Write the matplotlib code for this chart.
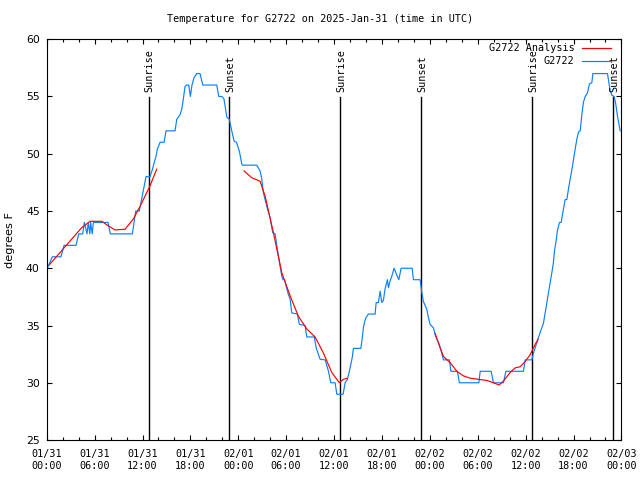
import datetime
import numpy as np
import matplotlib
matplotlib.use("Agg")
import matplotlib.pyplot as plt

# hours after 2025-01-31 00:00 UTC
start = datetime.datetime(2025, 1, 31, 0, 0)

blue_hours = [0.08, 0.70, 1.79, 2.17, 3.67, 4.01, 4.51, 4.71, 5.05, 5.2, 5.4, 5.5, 5.7, 5.84,
              7.68, 7.97, 10.73, 11.15, 11.6, 12.44, 12.94, 13.23, 13.45, 13.7, 13.86, 14.2,
              14.7, 14.95, 16.08, 16.29, 16.7, 16.92, 17.12, 17.33, 17.54, 17.79, 18.0, 18.2,
              18.46, 18.8, 19.21, 19.55, 21.3, 21.55, 21.93, 22.2, 22.56, 22.88, 23.18, 23.47,
              23.78, 24.14, 24.44, 24.54, 26.32, 26.73, 26.94, 27.14, 27.36, 27.57, 27.98,
              28.32, 28.61, 28.82, 29.02, 29.24, 29.45, 29.61, 29.8, 30.08, 30.28, 30.49, 30.7,
              31.4, 31.65, 32.37, 32.58, 33.53, 33.75, 34.25, 34.88, 35.29, 35.59, 36.13, 36.34,
              37.13, 37.38, 37.67, 37.88, 38.1, 38.3, 38.42, 39.35, 39.51, 39.67, 39.85, 40.01,
              40.3, 41.14, 41.27, 41.55, 41.77, 41.98, 42.18, 42.39, 42.68, 42.81, 43.02, 43.23,
              43.52, 43.86, 44.11, 44.4, 45.78, 45.94, 46.78, 46.99, 47.19, 47.62, 47.82, 48.03,
              48.45, 48.66, 48.87, 49.07, 49.37, 49.7, 50.45, 50.63, 51.45, 51.7, 54.14, 54.3,
              55.68, 55.96, 57.22, 57.52, 59.72, 59.94, 60.78, 60.98, 61.4, 61.82, 62.23, 62.44,
              62.66, 62.86, 63.07, 63.28, 63.48, 63.61, 63.82, 63.98, 64.24, 64.45, 64.74, 64.95,
              65.16, 65.36, 65.58, 65.79, 65.99, 66.2, 66.42, 66.62, 66.83, 67.04, 67.24, 67.46,
              67.74, 67.99, 68.29, 68.42, 70.25, 70.59, 70.8, 71.09, 71.3, 71.5, 71.84]
blue_temps = [40, 41, 41, 42, 42, 43, 43, 44, 43, 44, 43, 44, 43, 44,
              44, 43, 43, 45, 45, 48, 48, 48.6, 49.2, 49.8, 50.4, 51,
              51, 52, 52, 53, 53.4, 53.9, 54.8, 55.9, 56, 56, 55, 56,
              56.65, 57, 57, 56, 56, 55, 55, 54.8, 53.2, 53, 52, 51.1,
              51, 50.2, 49.1, 49, 49, 48.5, 47.8, 46.6, 46, 45.4, 44.4,
              43.1, 43, 42, 41.1, 40.2, 39.3, 39, 39, 38.2, 37.7, 37.3, 36.1,
              36, 35.1, 35, 34, 34, 33.07, 32.05, 32, 31.03, 30, 30, 29,
              29, 30, 30.3, 30.9, 31.6, 32.3, 33, 33, 33.8, 34.8, 35.4, 35.7,
              36, 36, 37, 37, 38, 37, 37.2, 38.2, 39, 38.3, 38.9, 39.3,
              40, 39.4, 39, 40, 40, 39, 39, 37.9, 37.1, 36.4, 35.7, 35.1,
              34.8, 34.2, 33.8, 33.55, 32.9, 32, 32, 31, 31, 30, 30, 31,
              31, 30, 30, 31, 31, 32, 32, 32.6, 33.5, 34.4, 35.2, 36.1,
              37, 37.9, 38.75, 39.6, 40.5, 41.5, 42.4, 43.3, 44, 44, 45.2, 46,
              46, 46.9, 47.8, 48.6, 49.5, 50.4, 51.3, 51.9, 52, 53.4, 54.5, 55,
              55.3, 56.1, 56.2, 57, 57, 55.5, 55.1, 55, 54.3, 53.3, 52]

# analysis curve, gaps marked with nan
red_hours = [0.33, 4.39, 5.43, 6.89, 7.72, 8.56, 9.81, 10.85, 11.69, 12.94, 13.78, 14.0,
             24.72, 25.69, 26.73, 27.36, 28.4, 29.45, 30.49, 31.53, 32.58, 33.62, 34.66,
             35.71, 36.66, 37.17, 37.67, 38.0,
             48.66, 49.29, 49.7, 50.54, 51.38, 52.21, 53.05, 54.09, 55.14, 55.97, 56.68,
             57.22, 58.06, 58.69, 59.31, 59.94, 60.56, 61.19, 61.56]
red_temps = [40.3, 43.55, 44.1, 44.1, 43.7, 43.35, 43.4, 44.3, 45.4, 47.2, 48.65, np.nan,
             48.5, 47.9, 47.6, 46.3, 43.1, 39.6, 37.6, 35.8, 34.7, 34.0, 32.6,
             30.9, 30.0, 30.3, 30.4, np.nan,
             34.3, 33.05, 32.3, 31.75, 31.0, 30.6, 30.4, 30.3, 30.2, 30.0, 29.8,
             30.15, 30.9, 31.3, 31.4, 31.85, 32.45, 33.35, 33.8]

sun_hours = [12.82, 22.88, 36.80, 46.94, 60.85, 71.0]
sun_labels = ["Sunrise", "Sunset", "Sunrise", "Sunset", "Sunrise", "Sunset"]

mono = "DejaVu Sans Mono"
fs = 7.3

fig = plt.figure(figsize=(6.4, 4.8), dpi=100)
ax = fig.add_axes([0.073, 0.0833, 0.898, 0.835])

ax.plot(red_hours, red_temps, color="#ff0000", lw=0.85, label="G2722 Analysis", zorder=3)
ax.plot(blue_hours, blue_temps, color="#0a80ff", lw=0.85, label="G2722", zorder=2)

for h, s in zip(sun_hours, sun_labels):
    ax.axvline(h, ymin=0, ymax=0.855, color="black", lw=1.0, zorder=1)
    ax.text(h + 0.1, 0.868, s, rotation=90, ha="center", va="bottom", family=mono,
            fontsize=fs, transform=ax.get_xaxis_transform())

ax.set_xlim(0, 72)
ax.set_ylim(25, 60)

xt = list(range(0, 73, 6))
xl = [(start + datetime.timedelta(hours=h)).strftime("%m/%d\n%H:%M") for h in xt]
ax.set_xticks(xt)
ax.set_xticklabels(xl, family=mono, fontsize=fs, linespacing=1.3)
ax.set_xticks(list(range(0, 73, 2)), minor=True)
ax.set_yticks(range(25, 61, 5))
for lbl in ax.get_yticklabels():
    lbl.set_fontsize(7.8)

ax.tick_params(which="both", direction="in", top=True, right=True, width=0.8)
ax.tick_params(which="major", length=3.6)
ax.tick_params(which="minor", length=2.2)
ax.tick_params(axis="x", pad=6.5)
ax.tick_params(axis="y", pad=5)
for sp in ax.spines.values():
    sp.set_linewidth(0.8)

fig.text(0.5, 0.960, "Temperature for G2722 on 2025-Jan-31 (time in UTC)",
         ha="center", va="center", family=mono, fontsize=fs)
fig.text(10 / 640, 0.5, "degrees F", rotation=90, ha="center", va="center", fontsize=8.2)

leg = ax.legend(loc="upper right", bbox_to_anchor=(0.982, 0.99), markerfirst=False,
                frameon=False, handlelength=2.9, handletextpad=0.7, labelspacing=0.3,
                borderpad=0, borderaxespad=0, prop={"family": mono, "size": fs})

fig.savefig("out.png", dpi=100)
